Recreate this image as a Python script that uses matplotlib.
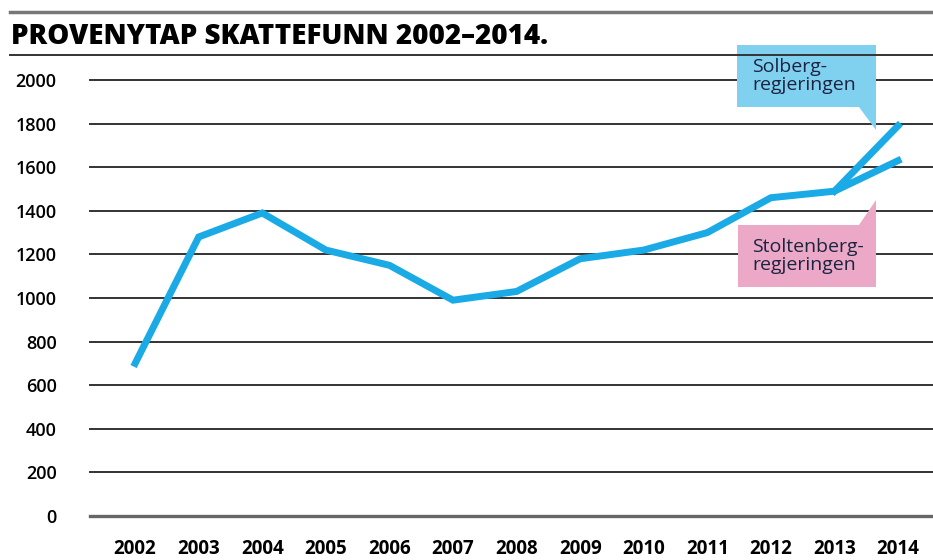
import matplotlib.pyplot as plt
from matplotlib.patches import Polygon

# data (mill. kr)
years = [2002, 2003, 2004, 2005, 2006, 2007, 2008, 2009, 2010, 2011, 2012, 2013, 2014]
loss = [700, 1280, 1390, 1220, 1150, 990, 1030, 1180, 1220, 1300, 1460, 1490, 1630]
solberg_years = [2013, 2014]
solberg_loss = [1490, 1790]
yticks = [0, 200, 400, 600, 800, 1000, 1200, 1400, 1600, 1800, 2000]

blue = '#1aaae6'
font = 'Open Sans'

fig = plt.figure(figsize=(9.33, 5.6), dpi=100)
ax = fig.add_axes([90/933, 44/560, 843/933, 436/560])

for v in yticks:
    if v == 0:
        ax.axhline(v, color='#666666', lw=2.4, zorder=1, clip_on=False)
    else:
        ax.axhline(v, color='#333333', lw=1.4, zorder=1, clip_on=False)

ax.plot(years, loss, color=blue, lw=5, solid_joinstyle='miter', zorder=3)
ax.plot(solberg_years, solberg_loss, color=blue, lw=5, solid_joinstyle='miter', zorder=3)

ax.set_xlim(2001.29, 2014.55)
ax.set_ylim(0, 2000)
for s in ax.spines.values():
    s.set_visible(False)
ax.set_xticks(years)
ax.set_xticklabels([str(y) for y in years], fontfamily=font, fontweight='bold', fontsize=13.5)
ax.set_yticks(yticks)
ax.set_yticklabels([str(v) for v in yticks], fontfamily=font, fontweight='semibold', fontsize=13)
ax.tick_params(axis='both', length=0)
ax.tick_params(axis='y', pad=24)
ax.tick_params(axis='x', pad=16.5)


def fx(px):
    return (px - 90) / 843


def fy(py):
    return (516 - py) / 436


# callout boxes
solberg_box = [(737, 45), (876, 45), (876, 130), (859, 107), (737, 107)]
stolt_box = [(738, 225), (859, 225), (876, 200), (876, 287), (738, 287)]
ax.add_patch(Polygon([(fx(x), fy(y)) for x, y in solberg_box], closed=True,
                     transform=ax.transAxes, facecolor='#80d0f0', edgecolor='none',
                     zorder=4, clip_on=False))
ax.add_patch(Polygon([(fx(x), fy(y)) for x, y in stolt_box], closed=True,
                     transform=ax.transAxes, facecolor='#eca8c7', edgecolor='none',
                     zorder=4, clip_on=False))
ax.text(fx(752), fy(76), 'Solberg-\nregjeringen', transform=ax.transAxes,
        fontfamily=font, fontsize=14, color='#1b2440', va='center', ha='left',
        linespacing=0.95, zorder=5)
ax.text(fx(752), fy(256), 'Stoltenberg-\nregjeringen', transform=ax.transAxes,
        fontfamily=font, fontsize=14, color='#1b2440', va='center', ha='left',
        linespacing=0.95, zorder=5)

# title and rules
fig.add_artist(plt.Line2D([10/933, 1], [1 - 12/560, 1 - 12/560], color='#777777', lw=2.5))
fig.add_artist(plt.Line2D([10/933, 1], [1 - 55/560, 1 - 55/560], color='#333333', lw=1.4))
fig.text(11/933, 1 - 36/560, 'PROVENYTAP SKATTEFUNN 2002\u20132014.', fontfamily=font,
         fontweight='heavy', fontsize=20, va='center', ha='left', color='#000000')

fig.savefig('out.png', dpi=100)
